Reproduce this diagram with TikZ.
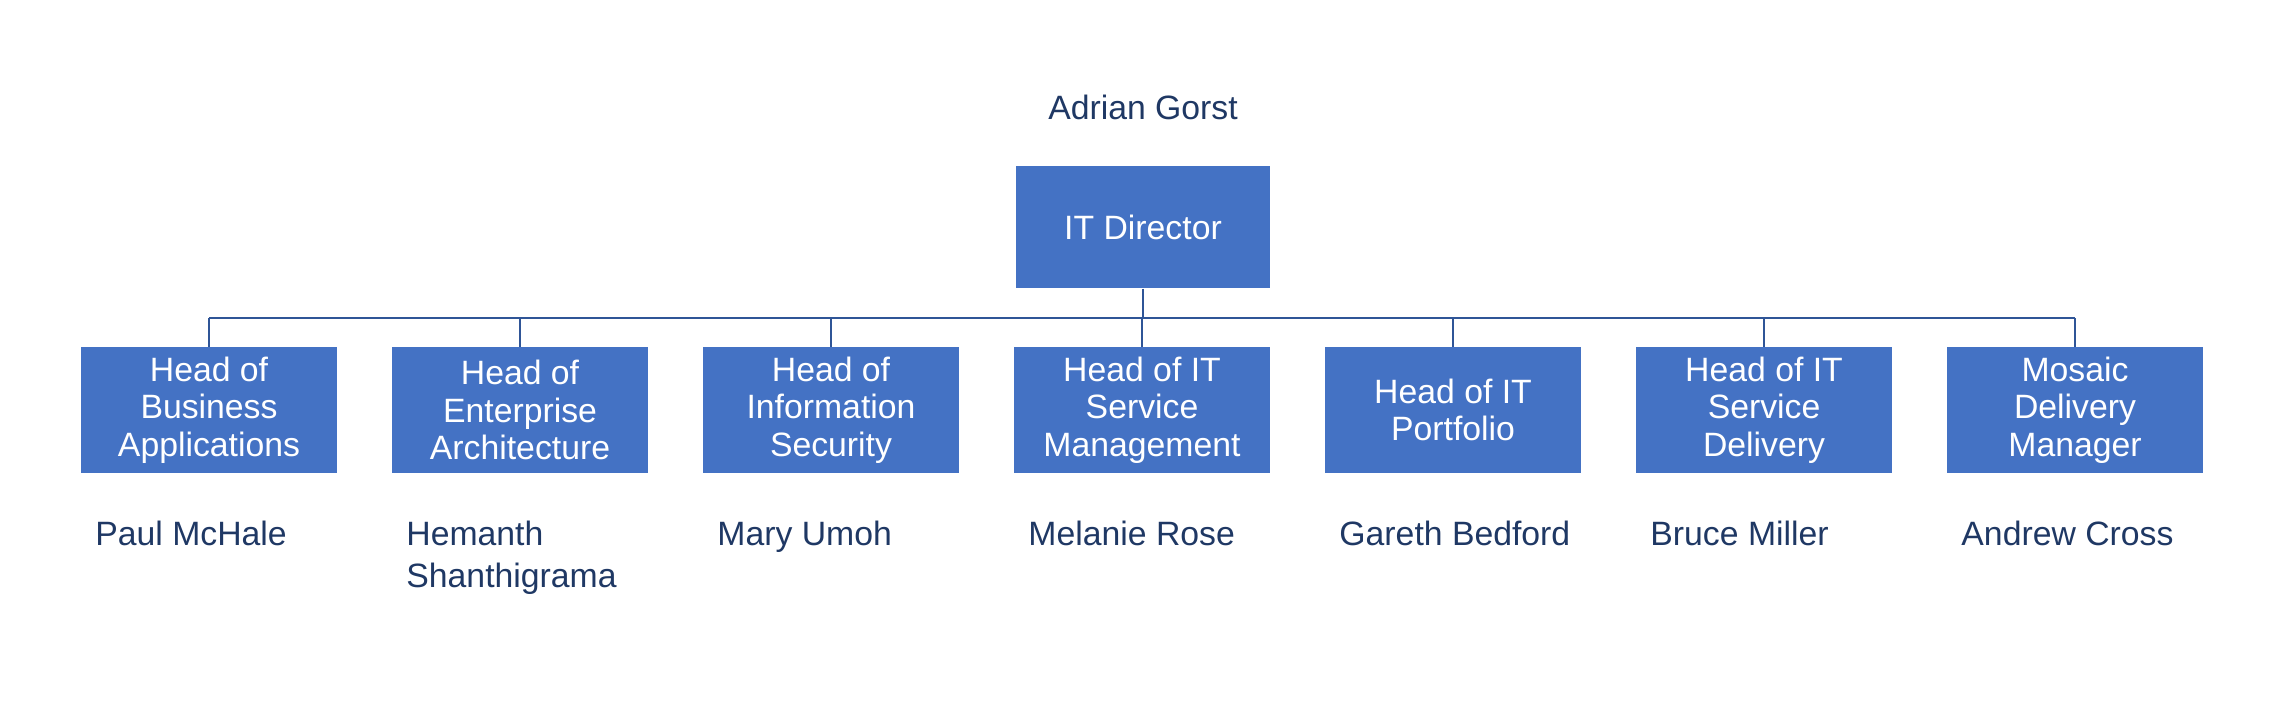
\documentclass[tikz,border=0pt]{standalone}
\usepackage{fontspec}
\setmainfont{Liberation Sans}
\usetikzlibrary{positioning}
\definecolor{boxblue}{HTML}{4472C4}
\definecolor{namedark}{HTML}{1F3864}
\definecolor{linkblue}{HTML}{2F5597}
\begin{document}
\begin{tikzpicture}[x=0.01cm, y=-0.01cm,
			role/.style={rectangle, fill=boxblue, text=white, inner sep=0pt,
				minimum width=2.55cm, minimum height=1.25cm, align=center,
				font=\fontsize{9.6}{10.6}\selectfont},
			person/.style={text=namedark, inner sep=0pt, align=left,
				font=\fontsize{9.6}{12}\selectfont},
			link/.style={draw=linkblue, line width=0.6pt}
			]
			\useasboundingbox (0,0) rectangle (2289,709);
			\node[role, minimum width=2.53cm, minimum height=1.22cm] (Dir) at (1143,227) {IT Director};
			\node[person] (DirName) at (1143,107) {Adrian Gorst};
			
			\coordinate (Bus) at (1143,318);
			\foreach \i/\x/\role/\name in {
				1/209/{Head of\\Business\\Applications}/{Paul McHale},
				2/520/{Head of\\Enterprise\\Architecture}/{Hemanth\\Shanthigrama},
				3/831/{Head of\\Information\\Security}/{Mary Umoh},
				4/1142/{Head of IT\\Service\\Management}/{Melanie Rose},
				5/1453/{Head of IT\\Portfolio}/{Gareth Bedford},
				5x/1764/{Head of IT\\Service\\Delivery}/{Bruce Miller},
				7/2075/{Mosaic\\Delivery\\Manager}/{Andrew Cross}}{
				\node[role] (R\i) at (\x,410) {\role};
				\node[person, anchor=north west] (N\i) at ([xshift=0.14cm]R\i.west |- 0,520) {\name};
				\draw[link] (R\i.north) -- (R\i.north |- Bus);
			}
			\draw[link] (R1.north |- Bus) -- (R7.north |- Bus);
			\draw[link] (Dir.south) -- (Bus);
		\end{tikzpicture}
\end{document}
